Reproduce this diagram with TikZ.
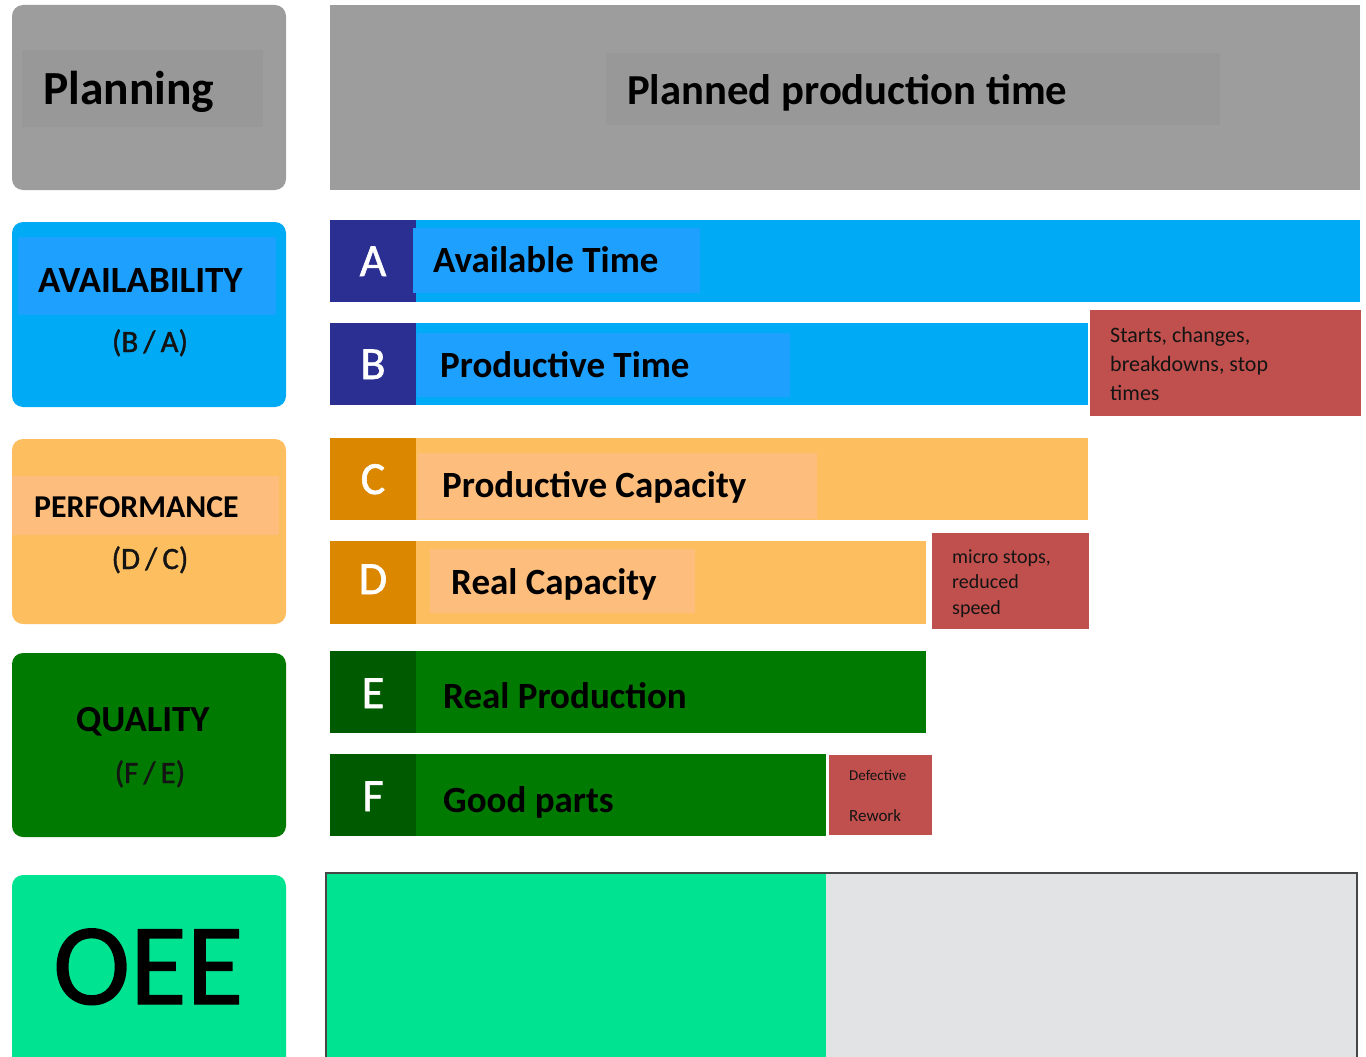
\documentclass[tikz,border=0pt]{standalone}
\usepackage{fontspec}
\setmainfont{Carlito}
\newfontfamily\medfont[FakeBold=1.2]{Carlito}
\definecolor{plangray}{RGB}{157,157,157}
\definecolor{planhl}{RGB}{152,152,152}
\definecolor{availblue}{RGB}{0,170,245}
\definecolor{availhl}{RGB}{30,160,255}
\definecolor{indigo}{RGB}{43,47,145}
\definecolor{perforange}{RGB}{253,190,95}
\definecolor{perfhl}{RGB}{253,190,125}
\definecolor{perfdark}{RGB}{220,135,0}
\definecolor{qualgreen}{RGB}{0,122,0}
\definecolor{qualdark}{RGB}{0,90,0}
\definecolor{losered}{RGB}{192,80,77}
\definecolor{oeegreen}{RGB}{0,228,146}
\definecolor{oeegray}{RGB}{226,227,229}
\definecolor{framegray}{RGB}{70,70,70}
\tikzset{
  blk/.style={anchor=north west, inner sep=0pt, outer sep=0pt, draw=none},
  rblk/.style={blk, rounded corners=11pt},
  hd/.style={anchor=base west, inner sep=0pt, font=\bfseries\fontsize{#1}{#1}\selectfont},
  letter/.style={anchor=base, inner sep=0pt, text=white, font=\medfont\fontsize{46}{46}\selectfont},
  ratio/.style={anchor=base, inner sep=0pt, text=black!92, font=\medfont\fontsize{31}{31}\selectfont},
  note/.style={anchor=base west, inner sep=0pt, align=left, text=black!92}
}
\begin{document}
\begin{tikzpicture}[x=1pt,y=-1pt]
\useasboundingbox (0,0) rectangle (1366,1057);
\fill[white] (0,0) rectangle (1366,1057);

% ---------- left column: category boxes ----------
\node[rblk, fill=plangray, minimum width=274pt, minimum height=185pt] (plan) at (12,5) {};
\node[blk, fill=planhl, minimum width=241pt, minimum height=77pt] (planhl) at (22,50) {};
\node[hd=47.5] (plantxt) at (43,104) {Planning};

\node[rblk, fill=availblue, minimum width=274pt, minimum height=185pt] (avail) at (12,222) {};
\node[blk, fill=availhl, minimum width=258pt, minimum height=78pt] (availhl) at (18,237) {};
\node[hd=37] (availtxt) at (38,292) {AVAILABILITY};
\node[ratio] (availratio) at (150,352) {(B\,/\,A)};

\node[rblk, fill=perforange, minimum width=274pt, minimum height=185pt] (perf) at (12,439) {};
\node[blk, fill=perfhl, minimum width=267pt, minimum height=59pt] (perfhl) at (12,476) {};
\node[hd=31.8] (perftxt) at (34,517) {PERFORMANCE};
\node[ratio] (perfratio) at (150,569) {(D\,/\,C)};

\node[rblk, fill=qualgreen, minimum width=274pt, minimum height=184pt] (qual) at (12,653) {};
\node[hd=36.8] (qualtxt) at (76,731) {QUALITY};
\node[ratio] (qualratio) at (150,783) {(F\,/\,E)};

\node[rblk, fill=oeegreen, minimum width=274pt, minimum height=200pt] (oee) at (12,875) {};
\node[anchor=base west, inner sep=0pt, font=\medfont\fontsize{116}{116}\selectfont] (oeetxt) at (53,1004) {OEE};

% ---------- right column: time bars ----------
\node[blk, fill=plangray, minimum width=1030pt, minimum height=185pt] (planbar) at (330,5) {};
\node[blk, fill=planhl, minimum width=614pt, minimum height=72pt] (planbarhl) at (606,53) {};
\node[hd=42.7] (planbartxt) at (627,104) {Planned production time};

% A: available time
\node[blk, fill=availblue, minimum width=1030pt, minimum height=82pt] (barA) at (330,220) {};
\node[blk, fill=indigo, minimum width=86pt, minimum height=82pt] (sqA) at (330,220) {};
\node[blk, fill=availhl, minimum width=287pt, minimum height=65pt] (hlA) at (413,228) {};
\node[letter] (letA) at (373,276) {A};
\node[hd=37] (txtA) at (433,272) {Available Time};

% B: productive time
\node[blk, fill=availblue, minimum width=758pt, minimum height=82pt] (barB) at (330,323) {};
\node[blk, fill=indigo, minimum width=86pt, minimum height=82pt] (sqB) at (330,323) {};
\node[blk, fill=availhl, minimum width=373pt, minimum height=64pt] (hlB) at (417,333) {};
\node[letter] (letB) at (373,379) {B};
\node[hd=37] (txtB) at (440,377) {Productive Time};
\node[blk, fill=losered, minimum width=271pt, minimum height=106pt] (lossB) at (1090,310) {};
\node[note, font=\fontsize{22}{28.6}\selectfont] (lossBtxt) at (1110,400)
  {Starts, changes,\\breakdowns, stop\\times};

% C: productive capacity
\node[blk, fill=perforange, minimum width=758pt, minimum height=82pt] (barC) at (330,438) {};
\node[blk, fill=perfdark, minimum width=86pt, minimum height=82pt] (sqC) at (330,438) {};
\node[blk, fill=perfhl, minimum width=399pt, minimum height=66pt] (hlC) at (418,453) {};
\node[letter] (letC) at (373,494) {C};
\node[hd=37] (txtC) at (442,497) {Productive Capacity};

% D: real capacity
\node[blk, fill=perforange, minimum width=596pt, minimum height=83pt] (barD) at (330,541) {};
\node[blk, fill=perfdark, minimum width=86pt, minimum height=83pt] (sqD) at (330,541) {};
\node[blk, fill=perfhl, minimum width=265pt, minimum height=64pt] (hlD) at (430,549) {};
\node[letter] (letD) at (373,594) {D};
\node[hd=37] (txtD) at (451,594) {Real Capacity};
\node[blk, fill=losered, minimum width=157pt, minimum height=96pt] (lossD) at (932,533) {};
\node[note, font=\fontsize{20}{25.5}\selectfont] (lossDtxt) at (952,614)
  {micro stops,\\reduced\\speed};

% E: real production
\node[blk, fill=qualgreen, minimum width=596pt, minimum height=82pt] (barE) at (330,651) {};
\node[blk, fill=qualdark, minimum width=86pt, minimum height=82pt] (sqE) at (330,651) {};
\node[letter] (letE) at (373,708) {E};
\node[hd=37] (txtE) at (443,708) {Real Production};

% F: good parts
\node[blk, fill=qualgreen, minimum width=496pt, minimum height=82pt] (barF) at (330,754) {};
\node[blk, fill=qualdark, minimum width=86pt, minimum height=82pt] (sqF) at (330,754) {};
\node[letter] (letF) at (373,811) {F};
\node[hd=37] (txtF) at (443,812) {Good parts};
\node[blk, fill=losered, minimum width=103pt, minimum height=80pt] (lossF) at (829,755) {};
\node[note, font=\fontsize{15}{15}\selectfont] (lossFa) at (849,780) {Defective};
\node[note, font=\fontsize{17}{17}\selectfont] (lossFb) at (849,821) {Rework};

% ---------- OEE result bar ----------
\node[blk, fill=oeegray, minimum width=1031pt, minimum height=200pt] (oeebar) at (326,872) {};
\node[blk, fill=oeegreen, minimum width=500pt, minimum height=200pt] (oeefill) at (326,872) {};
\draw[framegray, line width=2pt] (326,1060) -- (326,873) -- (1357,873) -- (1357,1060);
\end{tikzpicture}
\end{document}
